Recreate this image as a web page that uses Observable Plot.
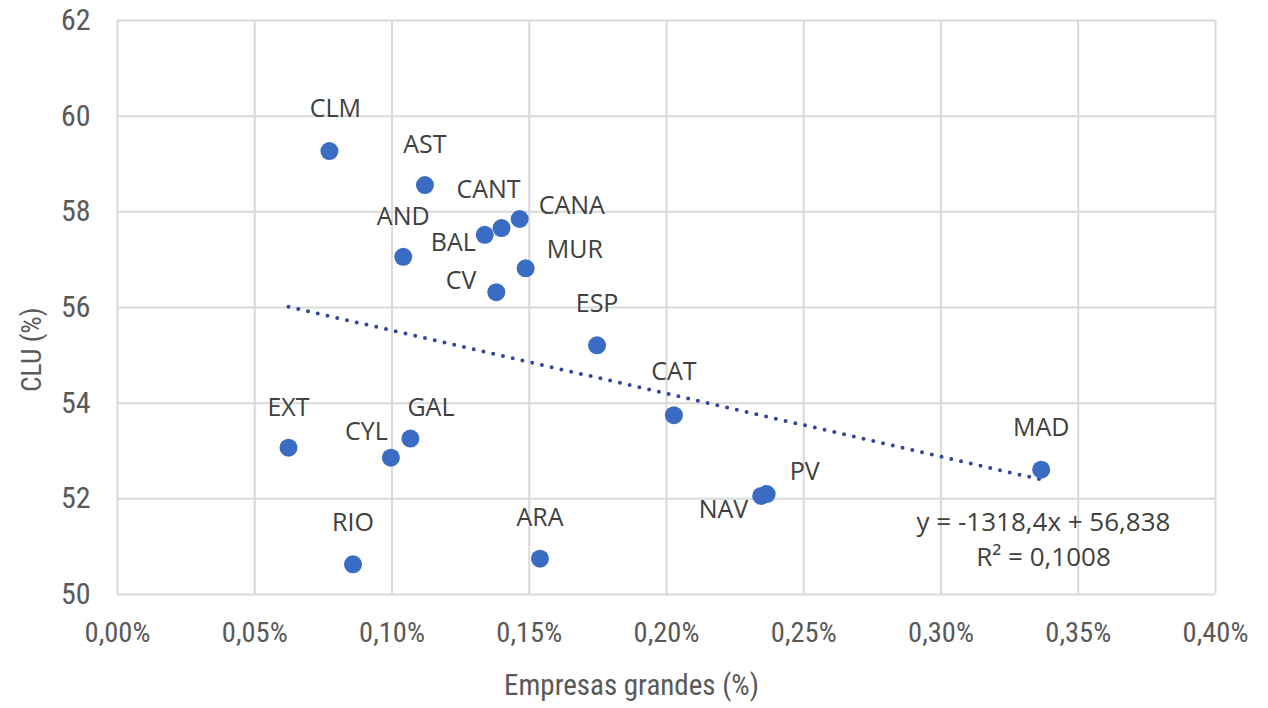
<!DOCTYPE html>
<html>
<head>
<meta charset="utf-8">
<script src="https://cdn.jsdelivr.net/npm/d3@7"></script>
<script src="https://cdn.jsdelivr.net/npm/@observablehq/plot@0.6"></script>
<style>
  html, body { margin: 0; padding: 0; background: #fff; }
  #chart { width: 1268px; height: 708px; }
</style>
</head>
<body>
<div id="chart"></div>
<script>
// ---- Data ----
const regions = ["CLM","AST","AND","BAL","CANT","CANA","MUR","CV","ESP","EXT","CYL","GAL","RIO","ARA","CAT","MAD","NAV","PV"];
const largeFirms = [0.0772,0.1120,0.1041,0.1338,0.1399,0.1465,0.1487,0.1380,0.1747,0.0623,0.0996,0.1067,0.0858,0.1539,0.2027,0.3365,0.2345,0.2365]; // % of firms
const clu = [59.27,58.56,57.06,57.52,57.66,57.85,56.82,56.32,55.21,53.07,52.86,53.26,50.63,50.75,53.75,52.61,52.06,52.10];
const xTicks = [0,0.05,0.10,0.15,0.20,0.25,0.30,0.35,0.40];
const yTicks = [50,52,54,56,58,60,62];
const trendSlope = -1318.4;     // per unit fraction
const trendIntercept = 56.838;
const equationLines = ["y = -1318,4x + 56,838", "R² = 0,1008"];
const xTitle = "Empresas grandes (%)";
const yTitle = "CLU (%)";

// label placement: [textAnchor, dx, dy]
const labelPlacement = {
  CLM: ["middle", 6, -42], AST: ["middle", 0, -40], AND: ["middle", 0, -40],
  BAL: ["end", -9, 8], CANT: ["middle", -13, -38], CANA: ["start", 19, -13],
  MUR: ["start", 21, -18], CV: ["end", -20, -11], ESP: ["middle", 0, -41],
  EXT: ["middle", 0, -40], CYL: ["end", -3, -26], GAL: ["start", -3, -31],
  RIO: ["middle", 0, -41], ARA: ["middle", 0, -41], CAT: ["middle", 0, -43],
  MAD: ["middle", 0, -42], NAV: ["end", -13, 14], PV: ["start", 23, -22]
};

const points = regions.map((r, i) => ({name: r, x: largeFirms[i], y: clu[i]}));
const xExt = d3.extent(largeFirms);
const trend = xExt.map(x => ({x, y: trendIntercept + trendSlope * x / 100}));

const fmtPct = d => d.toFixed(2).replace(".", ",") + "%";
const tickFont = "'Liberation Sans Narrow', 'Roboto Condensed', Roboto, sans-serif";
const labelFont = "'Open Sans', sans-serif";
const gray = "#595959";

const labelMarks = points.map(p => {
  const [anchor, dx, dy] = labelPlacement[p.name];
  return Plot.text([p], {x: "x", y: "y", text: "name", textAnchor: anchor, dx, dy,
    fontSize: 25, fontFamily: labelFont, fill: "#404040"});
});

const chart = Plot.plot({
  width: 1268,
  height: 708,
  marginLeft: 117,
  marginRight: 53,
  marginTop: 20,
  marginBottom: 114,
  style: {background: "#fff", overflow: "visible"},
  x: {domain: [0, 0.40]},
  y: {domain: [50, 62]},
  marks: [
    Plot.gridX(xTicks, {stroke: "#d9d9d9", strokeWidth: 2, strokeOpacity: 1}),
    Plot.gridY(yTicks, {stroke: "#d9d9d9", strokeWidth: 2, strokeOpacity: 1}),
    Plot.axisX(xTicks, {tickSize: 0, tickPadding: 27, tickFormat: fmtPct, label: null,
      fontSize: 28.5, fontFamily: tickFont, fill: gray}),
    Plot.axisY(yTicks, {tickSize: 0, tickPadding: 27, label: null,
      fontSize: 30, fontFamily: tickFont, fill: gray}),
    Plot.line(trend, {x: "x", y: "y", stroke: "#34469a", strokeWidth: 4,
      strokeDasharray: "0,10", strokeLinecap: "round"}),
    Plot.dot(points, {x: "x", y: "y", r: 9, fill: "#3a6cc4", stroke: "none"}),
    ...labelMarks,
    Plot.text([equationLines[0]], {frameAnchor: "bottom-right", dx: -172, dy: -64,
      textAnchor: "middle", fontSize: 26, fontFamily: labelFont, fill: "#404040"}),
    Plot.text([equationLines[1]], {frameAnchor: "bottom-right", dx: -172, dy: -29,
      textAnchor: "middle", fontSize: 26, fontFamily: labelFont, fill: "#404040"}),
    Plot.text([xTitle], {frameAnchor: "bottom", dx: -35, dy: 100,
      fontSize: 29, fontFamily: tickFont, fill: gray}),
    Plot.text([yTitle], {frameAnchor: "left", dx: -85, rotate: -90, textAnchor: "end",
      fontSize: 27.5, fontFamily: tickFont, fill: gray})
  ]
});
document.getElementById("chart").appendChild(chart);
</script>
</body>
</html>
